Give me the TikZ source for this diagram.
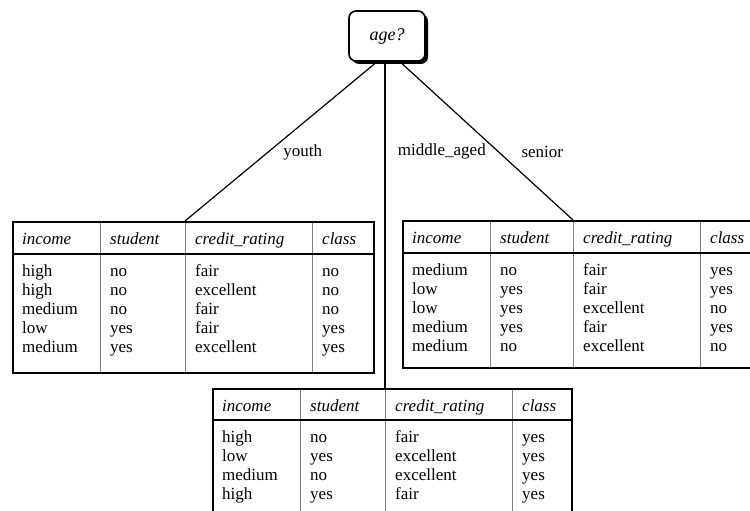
\documentclass[tikz,border=0pt]{standalone}
\usepackage{fontspec}
\setmainfont{Liberation Serif}
\usetikzlibrary{positioning,shadows}

\begin{document}
\begin{tikzpicture}[
            x=1pt, y=-1pt,
            font=\fontsize{17pt}{19.2pt}\selectfont,
            test/.style={rectangle, draw, rounded corners=7pt, line width=1.6pt, minimum width=76pt, minimum height=50pt, fill=white, font=\fontsize{18pt}{20pt}\selectfont\itshape, drop shadow={shadow xshift=3pt, shadow yshift=-3pt, fill=black, opacity=1}},
            partition/.style={rectangle, draw, line width=1.6pt, anchor=north west, inner sep=0pt, minimum width=361pt},
            headrule/.style={line width=1.4pt},
            colrule/.style={gray, line width=0.5pt},
            head/.style={anchor=base west, inner sep=0pt, font=\fontsize{17pt}{19.2pt}\selectfont\itshape},
            values/.style={anchor=base west, inner sep=0pt},
            branch/.style={line width=1.2pt},
            branchlabel/.style={anchor=west}
        ]
            \useasboundingbox (0,0) rectangle (750,511);
            \clip (0,0) rectangle (750,511);

            % --- TEST ---
            \node[test] (age) at (387,36) {age?};

            % --- YOUTH ---
            \begin{scope}[shift={(12,221)}]
                \draw[colrule] (88,0) -- (88,151) (173,0) -- (173,151) (300,0) -- (300,151);
                \draw[headrule] (0,33) -- (361,33);
                \node[partition, minimum height=151pt] (youthtab) at (0,0) {};
                \node[head] (youthinc) at (10,23) {income};
                \node[head] (youthstu) at (98,23) {student};
                \node[head] (youthcr) at (183,23) {credit\_rating};
                \node[head] (youthcls) at (310,23) {class};
                \node[values] (youthincv) at (10,55) {\begin{tabular}[t]{@{}l@{}}high\\high\\medium\\low\\medium\end{tabular}};
                \node[values] (youthstuv) at (98,55) {\begin{tabular}[t]{@{}l@{}}no\\no\\no\\yes\\yes\end{tabular}};
                \node[values] (youthcrv) at (183,55) {\begin{tabular}[t]{@{}l@{}}fair\\excellent\\fair\\fair\\excellent\end{tabular}};
                \node[values] (youthclsv) at (310,55) {\begin{tabular}[t]{@{}l@{}}no\\no\\no\\yes\\yes\end{tabular}};
            \end{scope}

            % --- SENIOR ---
            \begin{scope}[shift={(402,220)}]
                \draw[colrule] (88,0) -- (88,147) (171,0) -- (171,147) (298,0) -- (298,147);
                \draw[headrule] (0,33) -- (361,33);
                \node[partition, minimum height=147pt] (seniortab) at (0,0) {};
                \node[head] (seniorinc) at (10,23) {income};
                \node[head] (seniorstu) at (98,23) {student};
                \node[head] (seniorcr) at (181,23) {credit\_rating};
                \node[head] (seniorcls) at (308,23) {class};
                \node[values] (seniorincv) at (10,55) {\begin{tabular}[t]{@{}l@{}}medium\\low\\low\\medium\\medium\end{tabular}};
                \node[values] (seniorstuv) at (98,55) {\begin{tabular}[t]{@{}l@{}}no\\yes\\yes\\yes\\no\end{tabular}};
                \node[values] (seniorcrv) at (181,55) {\begin{tabular}[t]{@{}l@{}}fair\\fair\\excellent\\fair\\excellent\end{tabular}};
                \node[values] (seniorclsv) at (308,55) {\begin{tabular}[t]{@{}l@{}}yes\\yes\\no\\yes\\no\end{tabular}};
            \end{scope}

            % --- MIDDLE_AGED ---
            \begin{scope}[shift={(212,388)}]
                \draw[colrule] (88,0) -- (88,140) (173,0) -- (173,140) (300,0) -- (300,140);
                \draw[headrule] (0,32) -- (359,32);
                \node[partition, minimum width=359pt, minimum height=140pt] (midtab) at (0,0) {};
                \node[head] (midinc) at (10,23) {income};
                \node[head] (midstu) at (98,23) {student};
                \node[head] (midcr) at (183,23) {credit\_rating};
                \node[head] (midcls) at (310,23) {class};
                \node[values] (midincv) at (10,54) {\begin{tabular}[t]{@{}l@{}}high\\low\\medium\\high\end{tabular}};
                \node[values] (midstuv) at (98,54) {\begin{tabular}[t]{@{}l@{}}no\\yes\\no\\yes\end{tabular}};
                \node[values] (midcrv) at (183,54) {\begin{tabular}[t]{@{}l@{}}fair\\excellent\\excellent\\fair\end{tabular}};
                \node[values] (midclsv) at (310,54) {\begin{tabular}[t]{@{}l@{}}yes\\yes\\yes\\yes\end{tabular}};
            \end{scope}

            % --- BRANCHES ---
            \draw[branch] ([xshift=-10pt]age.south) -- ([xshift=173pt]youthtab.north west)
                node[branchlabel, pos=.57, xshift=12pt] (youthlbl) {youth};
            \draw[branch] ([xshift=-2pt]age.south) -- ([xshift=173pt]midtab.north west)
                node[branchlabel, pos=.276, xshift=9pt] (midlbl) {middle\_aged};
            \draw[branch] ([xshift=13pt]age.south) -- ([xshift=171pt]seniortab.north west)
                node[branchlabel, pos=.57, xshift=19pt] (seniorlbl) {senior};

        \end{tikzpicture}
\end{document}
